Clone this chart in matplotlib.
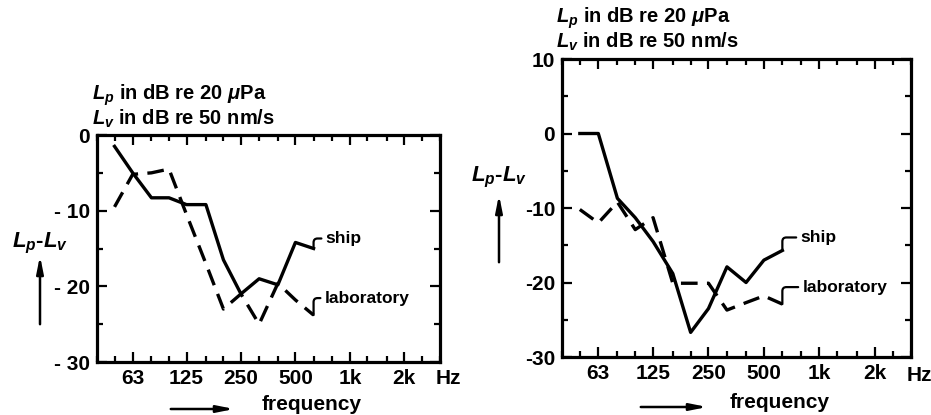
import numpy as np
import matplotlib
matplotlib.use("Agg")
import matplotlib.pyplot as plt
from matplotlib.ticker import FixedLocator, NullFormatter

plt.rcParams['font.family'] = ['Liberation Sans', 'DejaVu Sans']
plt.rcParams['font.weight'] = 'bold'
plt.rcParams['mathtext.fontset'] = 'custom'
plt.rcParams['mathtext.it'] = 'Liberation Sans:bold:italic'
plt.rcParams['mathtext.rm'] = 'Liberation Sans:bold'
plt.rcParams['mathtext.bf'] = 'Liberation Sans:bold'

# third-octave band centre frequencies (Hz)
freqs = [50, 63, 80, 100, 125, 160, 200, 250, 315, 400, 500, 630]

# left panel
ship_left = [-1.5, -5, -8.3, -8.3, -9.2, -9.2, -16.5, -21, -19, -19.8, -14.2, -15]
lab_left = [-9.5, -5.2, -5, -4.5, -10.5, -17, -23, -21, -25, -19.6, -21.8, -23.8]

# right panel
ship_right = [0, 0, -8.7, -11.3, -14.5, -18.8, -26.7, -23.5, -17.9, -20, -17, -15.7]
lab_right = [-10.2, -12, -9.2, -12.9, -11.3, -20.1, -20.1, -20.1, -23.7, -22.7, -21.8, -22.9]

octave_ticks = [63, 125, 250, 500, 1000, 2000]
octave_labels = ['63', '125', '250', '500', '1k', '2k']
third_octave = [40, 50, 63, 80, 100, 125, 160, 200, 250, 315, 400, 500, 630,
                800, 1000, 1250, 1600, 2000, 2500, 3150]

W, H = 931, 415


def fig_xy(x, y):
    return x / W, 1 - y / H


def setup_axes(ax, ylim, yticklabels):
    ax.set_xscale('log')
    ax.set_xlim(40, 3150)
    ax.set_ylim(*ylim)
    ax.xaxis.set_major_locator(FixedLocator(octave_ticks))
    ax.set_xticklabels(octave_labels)
    ax.xaxis.set_minor_locator(FixedLocator(third_octave))
    ax.xaxis.set_minor_formatter(NullFormatter())
    yt = np.arange(ylim[0], ylim[1] + 1, 10)
    ax.set_yticks(yt)
    ax.set_yticklabels(yticklabels)
    ax.yaxis.set_minor_locator(FixedLocator(np.arange(ylim[0], ylim[1] + 1, 5)))
    ax.tick_params(which='both', direction='in', top=True, right=True,
                   width=1.6, labelsize=15, pad=5)
    ax.tick_params(which='major', length=7)
    ax.tick_params(which='minor', length=4)
    for s in ax.spines.values():
        s.set_linewidth(2.3)
    ax.text(1.025, -0.03, 'Hz', transform=ax.transAxes, ha='center', va='top',
            fontsize=15, fontweight='bold')


def label_line(ax, x, y, text, dx, dy):
    ax.annotate(text, xy=(x, y), xytext=(dx, dy), textcoords='offset pixels',
                ha='left', va='center', fontsize=12.5, fontweight='bold',
                arrowprops=dict(arrowstyle='-', lw=1.6, color='black',
                                shrinkA=1, shrinkB=0,
                                connectionstyle='angle,angleA=0,angleB=90,rad=4'))


fig = plt.figure(figsize=(W / 100, H / 100), dpi=100)

ax1 = fig.add_axes([97 / W, (H - 362) / H, 343 / W, 227 / H])
ax1.plot(freqs, ship_left, color='black', lw=2.4)
ax1.plot(freqs, lab_left, color='black', lw=2.4, dashes=(5, 2.8))
setup_axes(ax1, (-30, 0), ['- 30', '- 20', '- 10', '0'])
label_line(ax1, freqs[-1], ship_left[-1], 'ship', 12, 10)
label_line(ax1, freqs[-1], lab_left[-1], 'laboratory', 11, 17)

ax2 = fig.add_axes([562 / W, (H - 357) / H, 349 / W, 298 / H])
ax2.plot(freqs, ship_right, color='black', lw=2.4)
ax2.plot(freqs, lab_right, color='black', lw=2.4, dashes=(5, 2.8))
setup_axes(ax2, (-30, 10), ['-30', '-20', '-10', '0', '10'])
label_line(ax2, freqs[-1], ship_right[-1], 'ship', 18, 13)
label_line(ax2, freqs[-1], lab_right[-1], 'laboratory', 20, 17)

# headers
for x0, y1, y2 in [(92, 100, 125), (556, 23, 48)]:
    fig.text(*fig_xy(x0, y1), r'$L_p$ in dB re 20 $\mu$Pa', fontsize=14.5,
             fontweight='bold', ha='left', va='baseline')
    fig.text(*fig_xy(x0, y2), r'$L_v$ in dB re 50 nm/s', fontsize=14.5,
             fontweight='bold', ha='left', va='baseline')

# y labels with upward arrows
for xc, yc, ya0, ya1 in [(40, 243, 327, 253), (499, 177, 265, 192)]:
    fig.text(*fig_xy(xc, yc), r'$L_p$-$L_v$', fontsize=16, ha='center', va='center')
    fig.add_artist(plt.Annotation('', xy=fig_xy(xc, ya1), xytext=fig_xy(xc, ya0),
                                  xycoords='figure fraction',
                                  arrowprops=dict(arrowstyle='-|>,head_length=1.0,head_width=0.2',
                                                  lw=1.8, color='black')))

# frequency labels with right arrows
for xt, yt, xa0, xa1, ya in [(312, 404, 168, 237, 409), (780, 402, 638, 710, 407)]:
    fig.text(*fig_xy(xt, yt), 'frequency', fontsize=15, ha='center', va='center')
    fig.add_artist(plt.Annotation('', xy=fig_xy(xa1, ya), xytext=fig_xy(xa0, ya),
                                  xycoords='figure fraction',
                                  arrowprops=dict(arrowstyle='-|>,head_length=1.0,head_width=0.2',
                                                  lw=1.8, color='black')))

fig.savefig('out.png', dpi=100)
